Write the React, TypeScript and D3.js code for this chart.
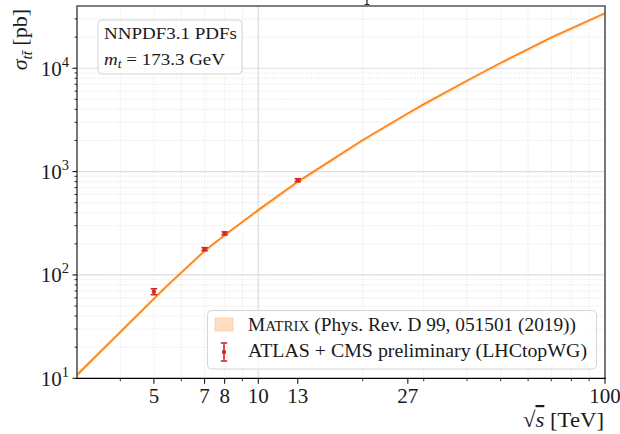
import React, { useEffect, useRef } from "react";
import * as d3 from "d3";

// Matrix NNLO prediction, sqrt(s) in TeV, sigma in pb
const energies = [3, 5.4, 7, 8, 10, 13, 20, 27, 30, 40, 50, 70, 100];
const sigmaCentral = [10.8, 76, 171, 243, 425, 798, 2017, 3655, 4477, 7590, 11260, 19830, 34070];
const sigmaUp = [11.4, 79.5, 177, 251, 440, 825, 2085, 3775, 4625, 7840, 11620, 20460, 35150];
const sigmaDown = [10.2, 72, 162, 231, 403, 756, 1910, 3465, 4245, 7200, 10680, 18820, 32350];

// ATLAS + CMS measurements
const lhcEnergies = [5, 7, 8, 13];
const lhcSigma = [68.9, 177.5, 252.5, 826];
const lhcError = [4.5, 6, 8.5, 27];

// axis ticks
const xTickValues = [5, 7, 8, 10, 13, 27, 100];
const xMinorTicks = [4, 6, 9, 20, 30, 40, 50, 60, 70, 80, 90];
const xGridDotted = [4, 5, 6, 7, 8, 9, 20, 30, 40, 50, 60, 70, 80, 90];
const yDecades = [10, 100, 1000, 10000];
const yExponents = ["1", "2", "3", "4"];

const W = 620;
const H = 434;
const FONT = "'Liberation Serif', 'DejaVu Serif', serif";
const ORANGE = "#ff7f0e";
const RED = "#d62728";
const INK = "#1a1a1a";

export default function App() {
  const ref = useRef<SVGSVGElement | null>(null);

  useEffect(() => {
    const left = 77, right = 605, top = 6, bottom = 378.3;
    const svg = d3.select(ref.current);
    svg.selectAll("*").remove();

    const x = d3.scaleLog().domain([3, 100]).range([left, right]);
    const y = d3.scaleLog().domain([10, 40000]).range([bottom, top]);

    svg.append("defs").append("clipPath").attr("id", "plotclip")
      .append("rect").attr("x", left).attr("y", top)
      .attr("width", right - left).attr("height", bottom - top);

    // grid
    const grid = svg.append("g");
    const yMinor: number[] = [];
    yDecades.forEach(d => { for (let k = 2; k <= 9; k++) if (d * k < 40000) yMinor.push(d * k); });
    grid.selectAll(".hminor").data(yMinor).join("line")
      .attr("x1", left).attr("x2", right)
      .attr("y1", d => y(d)).attr("y2", d => y(d))
      .attr("stroke", "#dcdcdc").attr("stroke-width", 0.8).attr("stroke-dasharray", "1,1.6");
    grid.selectAll(".vminor").data(xGridDotted).join("line")
      .attr("y1", top).attr("y2", bottom)
      .attr("x1", d => x(d)).attr("x2", d => x(d))
      .attr("stroke", "#dcdcdc").attr("stroke-width", 0.8).attr("stroke-dasharray", "1,1.6");
    grid.selectAll(".hmajor").data(yDecades.slice(1)).join("line")
      .attr("x1", left).attr("x2", right)
      .attr("y1", d => y(d)).attr("y2", d => y(d))
      .attr("stroke", "#dedede").attr("stroke-width", 1.2);
    grid.append("line")
      .attr("y1", top).attr("y2", bottom).attr("x1", x(10)).attr("x2", x(10))
      .attr("stroke", "#dedede").attr("stroke-width", 1.2);

    // theory band and line
    const pts = energies.map((e, i) => ({ e, c: sigmaCentral[i], lo: sigmaDown[i], hi: sigmaUp[i] }));
    const plot = svg.append("g").attr("clip-path", "url(#plotclip)");
    plot.append("path").datum(pts)
      .attr("d", d3.area<any>().x(d => x(d.e)).y0(d => y(d.lo)).y1(d => y(d.hi)))
      .attr("fill", ORANGE).attr("fill-opacity", 0.25);
    plot.append("path").datum(pts)
      .attr("d", d3.line<any>().x(d => x(d.e)).y(d => y(d.c)))
      .attr("fill", "none").attr("stroke", ORANGE).attr("stroke-width", 1.6);

    // measurements
    const meas = lhcEnergies.map((e, i) => ({ e, s: lhcSigma[i], err: lhcError[i] }));
    const mg = svg.append("g");
    mg.selectAll(".eb").data(meas).join("line")
      .attr("x1", d => x(d.e)).attr("x2", d => x(d.e))
      .attr("y1", d => y(d.s - d.err)).attr("y2", d => y(d.s + d.err))
      .attr("stroke", RED).attr("stroke-width", 1.6);
    mg.selectAll(".capt").data(meas).join("line")
      .attr("x1", d => x(d.e) - 3.2).attr("x2", d => x(d.e) + 3.2)
      .attr("y1", d => y(d.s + d.err)).attr("y2", d => y(d.s + d.err))
      .attr("stroke", RED).attr("stroke-width", 1.6);
    mg.selectAll(".capb").data(meas).join("line")
      .attr("x1", d => x(d.e) - 3.2).attr("x2", d => x(d.e) + 3.2)
      .attr("y1", d => y(d.s - d.err)).attr("y2", d => y(d.s - d.err))
      .attr("stroke", RED).attr("stroke-width", 1.6);
    mg.selectAll("circle").data(meas).join("circle")
      .attr("cx", d => x(d.e)).attr("cy", d => y(d.s)).attr("r", 2.2)
      .attr("fill", RED);

    // spines
    const spines = svg.append("g").attr("fill", "none");
    spines.append("path").attr("d", `M${left},${bottom}V${top}H${right}V${bottom}`)
      .attr("stroke", "#555").attr("stroke-width", 1.6);
    spines.append("line").attr("x1", left - 0.8).attr("x2", right + 0.8)
      .attr("y1", bottom).attr("y2", bottom)
      .attr("stroke", "#000").attr("stroke-width", 1.3);

    // x ticks
    const xt = svg.append("g");
    xt.selectAll(".xmaj").data(xTickValues).join("line")
      .attr("x1", d => x(d)).attr("x2", d => x(d))
      .attr("y1", bottom).attr("y2", bottom + 5.5)
      .attr("stroke", "#000").attr("stroke-width", 1);
    xt.selectAll(".xmin").data(xMinorTicks).join("line")
      .attr("x1", d => x(d)).attr("x2", d => x(d))
      .attr("y1", bottom).attr("y2", bottom + 3)
      .attr("stroke", "#000").attr("stroke-width", 0.8);
    xt.selectAll("text").data(xTickValues).join("text")
      .attr("x", d => x(d)).attr("y", 403)
      .attr("text-anchor", "middle")
      .attr("font-family", FONT).attr("font-size", 21).attr("fill", INK)
      .text(d => String(d));

    // y ticks
    const yt = svg.append("g");
    yt.selectAll(".ymaj").data(yDecades).join("line")
      .attr("x1", left - 4.5).attr("x2", left)
      .attr("y1", d => y(d)).attr("y2", d => y(d))
      .attr("stroke", "#000").attr("stroke-width", 1);
    yt.selectAll(".ymin").data(yMinor).join("line")
      .attr("x1", left - 2.5).attr("x2", left)
      .attr("y1", d => y(d)).attr("y2", d => y(d))
      .attr("stroke", "#000").attr("stroke-width", 0.8);
    const yl = yt.selectAll(".ylab").data(yDecades).join("text")
      .attr("x", 69).attr("y", d => y(d) + 7.4)
      .attr("text-anchor", "end")
      .attr("font-family", FONT).attr("font-size", 21).attr("fill", INK);
    yl.append("tspan").text("10");
    yl.append("tspan").attr("dy", -9).attr("font-size", 14.5)
      .text((d, i) => yExponents[i]);

    // y axis label
    const ylab = svg.append("text")
      .attr("transform", "translate(27,9) rotate(-90)")
      .attr("text-anchor", "end")
      .attr("font-family", FONT).attr("font-size", 22).attr("fill", INK);
    ylab.append("tspan").attr("font-style", "italic").text("σ");
    ylab.append("tspan").attr("font-style", "italic").attr("font-size", 15).attr("dy", 4.5)
      .text("tt\u0304");
    ylab.append("tspan").attr("dy", -4.5).text(" [pb]");

    // x axis label
    const xlab = svg.append("text")
      .attr("x", 604).attr("y", 427).attr("text-anchor", "end")
      .attr("font-family", FONT).attr("font-size", 22).attr("fill", INK)
      .attr("textLength", 81).attr("lengthAdjust", "spacingAndGlyphs");
    xlab.append("tspan").text("√");
    xlab.append("tspan").attr("font-style", "italic").attr("text-decoration", "overline").text("s");
    xlab.append("tspan").text(" [TeV]");

    // info box
    const info = svg.append("g");
    info.append("rect").attr("x", 98).attr("y", 20).attr("width", 144).attr("height", 54)
      .attr("rx", 4).attr("fill", "#fff").attr("fill-opacity", 0.8)
      .attr("stroke", "#d4d4d4").attr("stroke-width", 1);
    info.append("text").attr("x", 104).attr("y", 38.5)
      .attr("font-family", FONT).attr("font-size", 17.5).attr("fill", INK)
      .attr("textLength", 133).attr("lengthAdjust", "spacingAndGlyphs")
      .text("NNPDF3.1 PDFs");
    const mt = info.append("text").attr("x", 104).attr("y", 64.5)
      .attr("font-family", FONT).attr("font-size", 17.5).attr("fill", INK)
      .attr("textLength", 121).attr("lengthAdjust", "spacingAndGlyphs");
    mt.append("tspan").attr("font-style", "italic").text("m");
    mt.append("tspan").attr("font-style", "italic").attr("font-size", 12.5).attr("dy", 3).text("t");
    mt.append("tspan").attr("dy", -3).text(" = 173.3 GeV");

    // legend
    const lg = svg.append("g");
    lg.append("rect").attr("x", 207.5).attr("y", 310.5).attr("width", 389).attr("height", 58.5)
      .attr("rx", 4).attr("fill", "#fff").attr("fill-opacity", 0.8)
      .attr("stroke", "#d4d4d4").attr("stroke-width", 1);
    lg.append("rect").attr("x", 215).attr("y", 318).attr("width", 18).attr("height", 13)
      .attr("fill", ORANGE).attr("fill-opacity", 0.25)
      .attr("stroke", ORANGE).attr("stroke-opacity", 0.3).attr("stroke-width", 0.8);
    const l1 = lg.append("text").attr("x", 248).attr("y", 331)
      .attr("font-family", FONT).attr("font-size", 18).attr("fill", INK)
      .attr("textLength", 328).attr("lengthAdjust", "spacingAndGlyphs");
    l1.append("tspan").text("M");
    l1.append("tspan").attr("font-size", 14).text("ATRIX");
    l1.append("tspan").text(" (Phys. Rev. D 99, 051501 (2019))");
    lg.append("line").attr("x1", 224).attr("x2", 224).attr("y1", 343).attr("y2", 361)
      .attr("stroke", RED).attr("stroke-width", 1.6);
    lg.append("line").attr("x1", 220.8).attr("x2", 227.2).attr("y1", 343).attr("y2", 343)
      .attr("stroke", RED).attr("stroke-width", 1.6);
    lg.append("line").attr("x1", 220.8).attr("x2", 227.2).attr("y1", 361).attr("y2", 361)
      .attr("stroke", RED).attr("stroke-width", 1.6);
    lg.append("circle").attr("cx", 224).attr("cy", 352).attr("r", 2.2).attr("fill", RED);
    lg.append("text").attr("x", 248).attr("y", 357)
      .attr("font-family", FONT).attr("font-size", 18).attr("fill", INK)
      .attr("textLength", 339).attr("lengthAdjust", "spacingAndGlyphs")
      .text("ATLAS + CMS preliminary (LHCtopWG)");

    // clipped glyph remnant above the frame
    svg.append("path").attr("d", "M367,0V4.5M364.6,4.5H369.4")
      .attr("stroke", "#222").attr("stroke-width", 1.2).attr("fill", "none");
  }, []);

  return (
    <svg ref={ref} width={W} height={H}
      style={{ position: "absolute", left: 0, top: 0, background: "#fff" }} />
  );
}
